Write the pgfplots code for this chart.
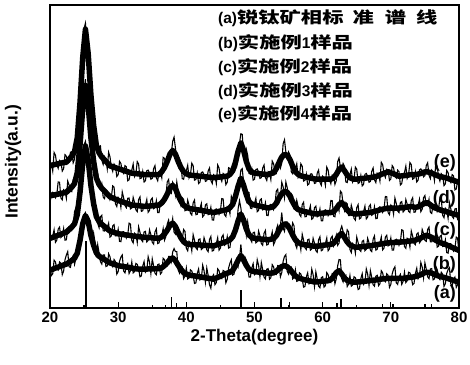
\documentclass[border=0pt]{standalone}
\usepackage{fontspec}
\setmainfont{Liberation Sans}
\newfontfamily\cjk[FakeStretch=1.33]{Noto Sans CJK SC}
\usepackage{pgfplots}
\usepackage{pgfplotstable}
\pgfplotsset{compat=1.18}

% noisy measured traces
\pgfplotstableread{
x b c d e
20.0 14 21.5 34.5 48
20.2 10.7 23.7 37.9 47.6
20.4 11.3 23.8 38.2 45.2
20.6 15.8 25.8 37.8 51.3
20.8 15.2 21.7 36.4 50.4
21.0 12.9 22.4 37.5 47.3
21.2 12.5 26 41.6 46.1
21.4 15.2 26.7 41.5 48.7
21.6 14.8 23.3 36.3 48.3
21.8 11 23.8 35.7 45.2
22.0 12.2 26.2 39 46
22.2 15.9 22.4 38.6 50.6
22.4 17.5 22.5 36.2 50.1
22.6 18.6 26.2 41.9 48.1
22.8 13.6 26.9 40.6 48.1
23.0 13.4 26.8 38.5 51.4
23.2 16.2 25.7 38.4 51.6
23.4 17.3 27.3 42.3 47.9
23.6 14.4 31.8 43.1 49.1
23.8 16.3 33.1 41.4 54.2
24.0 20.1 29.3 43.7 57.2
24.2 18.7 32.2 51.8 64.9
24.4 21.3 39.1 54.8 66.6
24.6 26.8 43.4 58.3 75.1
24.8 29.3 45.7 63.8 86.6
25.0 30.9 53.9 71.2 92.3
25.2 31.5 55 75.5 94
25.4 29.1 50.2 68 88.5
25.6 29.6 47.4 65.5 85
25.8 28.8 46.5 62.1 74.7
26.0 23 42.5 56.7 68.3
26.2 21.9 36 54.6 66.6
26.4 24.7 33.4 46.4 61.8
26.6 21.7 34.8 44.2 57.5
26.8 16.7 31.2 44.9 52.2
27.0 20.9 27.9 44.4 51.2
27.2 18.1 26.5 39.8 53.2
27.4 15.3 30.1 39.4 53.5
27.6 14.5 30.6 41 48.8
27.8 17.5 25.5 36.6 47.4
28.0 17.5 25.4 36.1 49.9
28.2 13.7 27 38.9 48.9
28.4 13.9 26.6 38.6 45.9
28.6 17.9 28 37.7 51.4
28.8 16.9 23.4 35.7 49.9
29.0 14.3 23.8 36.5 46.5
29.2 13.6 27.1 40.3 45.1
29.4 16 27.5 39.9 47.5
29.6 15.3 23.8 34.4 46.8
29.8 11.2 23.9 33.5 43.4
30.0 12 26 36.5 44
30.2 15.4 22 35.9 48.4
30.4 16.8 21.9 33.2 47.7
30.6 17.5 25.1 38.3 45.1
30.8 12.2 25.2 36.4 44.4
31.0 11.6 24.7 33.8 47
31.2 14 23.1 33.1 46.6
31.4 14.7 24.1 36.2 42
31.6 11.4 28 36.3 42.3
31.8 12.3 27.7 32.7 44.9
32.0 15.2 22.3 33 45.5
32.2 11.6 21.5 36.5 47.5
32.4 12 24.7 34.9 43.4
32.6 14.7 24.2 32.4 44.4
32.8 14.4 21.6 31.8 48.3
33.0 12.9 26.8 35.8 47.5
33.2 10.3 25 36.7 42.7
33.4 10.6 22.5 31.9 42.9
33.6 13.8 21.9 32.1 45.1
33.8 15.3 25.1 34.1 41.6
34.0 11.8 25.3 34 42
34.2 12.4 21.8 35.8 45.3
34.4 16.9 22.3 31.6 45.5
34.6 15.2 25.8 32.2 44.5
34.8 11.4 24.2 35.7 42.5
35.0 16.2 21.7 36.3 42.8
35.2 13.9 21.1 32.8 46
35.4 11.5 25.1 33.1 47
35.6 11 26.1 35.4 43
35.8 14.3 21.3 31.5 42
36.0 14.5 21.5 31.5 45
36.2 11.2 23.8 35.1 45
36.4 11.8 24 35.7 43
36.6 16.4 26.2 35.8 49.7
36.8 16 22.4 34.9 49.4
37.0 14 23.6 36.8 47.2
37.2 13.9 27.7 41.6 46.9
37.4 17 29 42.4 50.6
37.6 17 26.3 38.1 51.3
37.8 15.3 26.9 37.8 51.2
38.0 18.5 29.5 41.5 55
38.2 19.6 25 40.5 56.4
38.4 18.6 24.4 37.4 52.8
38.6 18.6 26.7 41.6 49.1
38.8 12.6 25.9 38.7 47.4
39.0 11.5 24.6 35.3 49.2
39.2 13.3 22.2 33.8 47.9
39.4 13.5 22.6 36.4 42.7
39.6 9.7 25.9 35.9 42.5
39.8 10.5 25.3 32.1 44.9
40.0 13.2 19.7 32.3 45.3
40.2 9.6 18.9 35.6 47.1
40.4 9.9 22 33.9 42.9
40.6 12.6 21.5 31.3 43.9
40.8 12.2 18.9 30.7 47.8
41.0 10.7 24.2 34.7 47
41.2 8.1 22.4 35.6 42.2
41.4 8.3 19.9 30.8 42.4
41.6 11.4 19.3 30.9 44.6
41.8 12.9 22.6 32.9 41.1
42.0 9.3 22.8 32.8 41.5
42.2 9.7 19.3 34.5 44.7
42.4 14.1 19.7 30.1 44.9
42.6 12.3 23.2 30.6 43.9
42.8 8.5 21.7 34 41.8
43.0 13.2 19.2 34.4 42
43.2 10.8 18.6 30.8 45.2
43.4 7.7 22.6 31 46.2
43.6 6.5 23.6 33.2 42.1
43.8 10.3 18.8 29.1 41.1
44.0 11 19 29 44
44.2 7.7 21.2 32.4 43.6
44.4 8.4 21.3 32.7 41.1
44.6 12.9 23.2 32.3 47.2
44.8 12.3 19.1 30.9 46.2
45.0 10 19.8 32 43
45.2 9.7 23.4 36.1 41.8
45.4 12.4 24.1 36 44.4
45.6 12.1 20.7 30.8 43.9
45.8 8.3 21.1 30.2 40.7
46.0 9.5 23.5 33.5 41.5
46.2 13.2 19.8 33.3 46.3
46.4 14.8 20 31.1 46.1
46.6 15.9 23.8 36.9 44.2
46.8 10.9 24.5 35.7 44.3
47.0 11.2 25.1 34.5 48.4
47.2 14.4 24.7 35.3 49.5
47.4 16.1 27.3 40.3 46.9
47.6 13.8 32.8 42.2 49.3
47.8 16.4 35.4 41.9 54.4
48.0 21 33 45.5 57.5
48.2 16 29.5 46 57.3
48.4 14.9 30 41.5 51
48.6 16.8 28.1 37.5 50.2
48.8 15.6 24.1 35.4 52.4
49.0 13.4 28.4 38.3 50.4
49.2 10.2 25.6 38.1 44.4
49.4 10.2 22.7 33 44.2
49.6 13.2 21.8 32.8 45.9
49.8 14.6 24.9 34.7 42.2
50.0 11 25 34.5 42.5
50.2 11.5 21.5 36.2 45.7
50.4 15.9 21.9 31.8 45.9
50.6 14.1 25.4 32.2 44.9
50.8 10.3 23.8 35.6 42.8
51.0 15 21.3 36 43
51.2 12.7 20.7 32.4 46.2
51.4 10.2 24.7 32.6 47.2
51.6 9.6 25.6 34.7 43.1
51.8 12.8 20.8 30.6 42.1
52.0 13 21 30.5 45
52.2 9.5 23.1 33.9 44.7
52.4 10 23.2 34.2 42.4
52.6 14.3 25.1 33.9 48.5
52.8 13.6 20.9 32.5 47.6
53.0 11.4 21.9 34.1 45.1
53.2 11.1 25.9 38.6 44.5
53.4 14 27.3 39.2 48
53.6 13.9 24.6 34.8 48.5
53.8 10.3 27.1 36.2 46.2
54.0 11.7 31.5 41.5 47.8
54.2 15.4 26.4 40 54.2
54.4 17 25.3 36.5 55.5
54.6 17.6 28.4 41.6 51.5
54.8 12.1 28.4 39.7 49.4
55.0 11.2 27.2 36.6 51.5
55.2 13.3 25 35.4 50.5
55.4 13.5 25.1 37.7 44.9
55.6 9.6 28.1 37 44.3
55.8 10.1 27.1 32.7 46.2
56.0 12.6 21 32.4 46
56.2 8.8 19.8 35.5 47.6
56.4 9 22.6 33.5 43.1
56.6 11.6 21.9 30.9 43.9
56.8 11.2 19.2 30.2 47.6
57.0 9.6 24.3 34.1 46.8
57.2 6.9 22.4 34.9 41.9
57.4 7.1 19.9 30.1 42.1
57.6 10.2 19.3 30.2 44.2
57.8 11.6 22.5 32.1 40.6
58.0 8 22.7 32 41
58.2 8.4 19.1 33.7 44.2
58.4 12.8 19.5 29.3 44.3
58.6 11 23 29.7 43.2
58.8 7.1 21.4 33.1 41.1
59.0 11.9 18.9 33.6 41.3
59.2 9.6 18.4 30.1 44.5
59.4 7.2 22.5 30.4 45.5
59.6 6.7 23.5 32.7 41.5
59.8 10 18.9 28.8 40.5
60.0 10.3 19.2 28.8 43.5
60.2 6.9 21.3 32.1 43
60.4 7.4 21.3 32.4 40.5
60.6 11.7 23.1 32 46.5
60.8 11 18.9 30.5 45.5
61.0 8.7 19.5 31.5 42.3
61.2 8.4 23 35.5 41
61.4 11.4 23.7 35.4 43.8
61.6 11.3 20.4 30.3 43.5
61.8 8 21.2 30.1 40.8
62.0 9.7 23.9 33.8 42.1
62.2 13.9 20.7 34 48.3
62.4 16 21.4 32.1 49.5
62.6 15.9 25.7 38.6 46.5
62.8 9.7 27 38 45.5
63.0 8.6 25.2 34.1 47.7
63.2 10.4 22.3 32.2 46.8
63.4 10.8 22.6 34.8 41.6
63.6 7.1 25.8 34.4 41.4
63.8 7.9 25.1 30.5 43.7
64.0 10.7 19.3 30.5 44
64.2 7.2 18.3 33.9 45.8
64.4 7.6 21.3 32.2 41.6
64.6 10.3 20.7 29.6 42.6
64.8 10 18.1 29 46.5
65.0 8.6 23.4 33.1 45.8
65.2 6.1 21.6 34.1 41.1
65.4 6.4 19.2 29.4 41.4
65.6 9.7 18.7 29.7 43.7
65.8 11.3 22 31.8 40.3
66.0 7.8 22.3 31.8 40.8
66.2 8.4 18.9 33.6 44.1
66.4 12.9 19.4 29.4 44.4
66.6 11.2 23 30 43.5
66.8 7.5 21.5 33.5 41.5
67.0 12.3 19.1 34.1 41.8
67.2 10.1 18.6 30.6 45.1
67.4 7.7 22.7 31 46.2
67.6 7.2 23.8 33.4 42.3
67.8 10.5 19.1 29.5 41.4
68.0 10.8 19.4 29.6 44.5
68.2 7.4 21.5 33 44.2
68.4 8 21.6 33.4 41.9
68.6 12.3 23.4 33 48.1
68.8 11.6 19.2 31.6 47.3
69.0 9.2 19.8 32.7 44.2
69.2 8.7 23.4 36.8 43.1
69.4 11.3 24 36.7 45.8
69.6 10.8 20.5 31.5 45.5
69.8 6.8 20.8 30.8 42.1
70.0 7.8 23.1 34 42.6
70.2 11.3 19.1 33.5 47
70.4 12.8 19.1 31 46.3
70.6 13.6 22.4 36.3 43.6
70.8 8.3 22.7 34.5 42.9
71.0 7.8 22.2 32 45.5
71.2 10.3 20.7 31.5 45
71.4 11.1 21.8 34.8 40.6
71.6 7.8 25.8 35.1 41.1
71.8 8.8 25.6 31.7 43.9
72.0 11.8 20.3 32.2 44.7
72.2 8.4 19.7 35.8 46.8
72.4 9 23 34.3 42.8
72.6 11.8 22.6 31.9 43.9
72.8 11.6 20.1 31.5 48
73.0 10.2 25.4 35.5 47.3
73.2 7.7 23.7 36.4 42.5
73.4 8.1 21.3 31.6 42.8
73.6 11.4 20.9 31.7 45
73.8 13.1 24.4 33.8 41.6
74.0 9.7 24.8 33.9 42.2
74.2 10.4 21.5 35.9 45.6
74.4 15 22.1 31.8 45.9
74.6 13.5 25.9 32.6 45.1
74.8 10 24.6 36.4 43.3
75.0 14.9 22.3 37.1 43.7
75.2 12.8 22 33.8 47
75.4 10.3 25.9 33.9 47.9
75.6 9.7 26.7 35.9 43.8
75.8 12.9 21.8 31.6 42.7
76.0 13 21.8 31.2 45.5
76.2 9.3 23.5 34.2 44.8
76.4 9.6 23.1 34.1 42.1
76.6 13.7 24.6 33.5 47.9
76.8 12.7 20.1 31.8 46.7
77.0 10.1 20.4 32.6 43.3
77.2 9.4 23.6 36.4 41.9
77.4 11.8 24 36 44.3
77.6 11.2 20.3 30.6 43.7
77.8 7.1 20.4 29.8 40.4
78.0 8 22.5 32.9 41
78.2 11.4 18.3 32.3 45.4
78.4 12.7 18.1 29.6 44.7
78.6 13.3 21.2 34.7 42.1
78.8 7.9 21.2 32.8 41.4
79.0 7.3 20.5 30.2 44
79.2 9.6 18.8 29.6 43.6
79.4 10.2 19.6 32.7 39
79.6 6.8 23.4 32.8 39.3
79.8 7.7 23 29.2 41.9
80.0 10.5 17.5 29.5 42.5
}\xrd

% dense core of each trace
\pgfplotstableread{
x b c d e
20.0 12.5 23 37 47
20.4 12.8 23.3 37.2 47.2
20.8 13.2 23.7 37.4 47.4
21.2 13.5 24 37.6 47.6
21.6 13.8 24.3 37.8 47.8
22.0 14.2 24.7 38 48
22.4 14.5 25 38.2 48.1
22.8 15.1 25.9 39.1 49.1
23.2 15.7 26.7 39.9 50.1
23.6 16.4 27.8 41.1 51.6
24.0 18.1 30.8 44.7 56.2
24.4 22.3 38.1 53.8 67.6
24.8 27.8 47.7 65.8 82.6
25.2 30.5 53.5 73.5 92
25.6 28.6 48.9 67 84
26.0 24 40.5 56.2 70.3
26.4 20.7 34.4 48.4 60.3
26.8 18.2 30.2 42.9 53.7
27.2 17.1 28.5 40.8 51.2
27.6 16.5 27.6 39.5 49.8
28.0 16 26.9 38.6 48.9
28.4 15.4 26.1 37.6 47.9
28.8 14.9 25.4 36.7 46.9
29.2 14.6 25.1 36.3 46.6
29.6 14.3 24.8 35.9 46.3
30.0 14 24.5 35.5 46
30.4 13.8 24.4 35.2 45.7
30.8 13.7 24.2 34.9 45.4
31.2 13.5 24.1 34.6 45.1
31.6 13.4 24 34.3 44.8
32.0 13.2 23.8 34 44.5
32.4 13 23.7 33.9 44.4
32.8 12.9 23.6 33.8 44.3
33.2 12.8 23.5 33.7 44.2
33.6 12.8 23.4 33.6 44.1
34.0 12.8 23.3 33.5 44
34.4 12.9 23.3 33.6 44
34.8 12.9 23.2 33.7 44
35.2 12.9 23.1 33.8 44
35.6 13 23.1 33.9 44
36.0 13 23 34 44
36.4 13.3 23.5 34.7 45
36.8 14 24.4 35.9 46.4
37.2 14.9 25.7 37.6 48.4
37.6 16 27.3 39.6 50.8
38.0 16.5 28 40.5 52
38.4 15.6 26.9 39.4 50.8
38.8 14.1 24.9 37.2 48.4
39.2 12.8 23.2 35.3 46.4
39.6 11.7 21.9 33.9 45
40.0 11.2 21.2 33.3 44.3
40.4 10.9 21 32.9 43.9
40.8 10.7 20.9 32.7 43.8
41.2 10.6 20.9 32.6 43.7
41.6 10.4 20.8 32.4 43.6
42.0 10.3 20.8 32.3 43.5
42.4 10.1 20.7 32.1 43.4
42.8 10 20.7 32 43.3
43.2 9.8 20.6 31.8 43.2
43.6 9.7 20.6 31.7 43.1
44.0 9.5 20.5 31.5 43
44.4 9.9 20.8 31.7 43.1
44.8 10.3 21.1 31.9 43.2
45.2 10.7 21.4 32.1 43.3
45.6 11.1 21.7 32.3 43.4
46.0 11.5 22 32.5 43.5
46.4 11.8 22.5 33.1 44.1
46.8 12.4 23.5 34.2 45.3
47.2 13.9 25.7 36.8 48
47.6 15.8 28.8 40.2 51.8
48.0 17.3 31 42.8 54.5
48.4 15.9 29 40.5 52
48.8 14.1 26.1 37.4 48.4
49.2 12.7 24.1 35.1 45.9
49.6 12.2 23.3 34.3 44.9
50.0 12 23 34 44.5
50.4 11.9 22.9 33.8 44.4
50.8 11.8 22.8 33.6 44.3
51.2 11.7 22.7 33.4 44.2
51.6 11.6 22.6 33.2 44.1
52.0 11.5 22.5 33 44
52.4 11.5 22.7 33.2 44.4
52.8 11.6 22.9 33.5 44.6
53.2 12.1 23.9 34.6 46
53.6 12.9 25.6 36.3 48
54.0 13.7 27 37.7 49.8
54.4 14 27.8 38.5 50.7
54.8 13.6 27.4 38.2 50.4
55.2 12.8 26 36.9 49
55.6 11.6 24.1 35 46.8
56.0 10.6 22.5 33.4 45
56.4 10 21.6 32.5 44.1
56.8 9.7 21.2 32.2 43.6
57.2 9.4 20.9 31.9 43.4
57.6 9.2 20.8 31.7 43.2
58.0 9 20.7 31.5 43
58.4 8.8 20.5 31.3 42.8
58.8 8.6 20.4 31.1 42.6
59.2 8.6 20.4 31.1 42.5
59.6 8.7 20.5 31.2 42.5
60.0 8.8 20.7 31.3 42.5
60.4 8.9 20.8 31.4 42.5
60.8 9 20.9 31.5 42.5
61.2 9.4 21 31.5 42.5
61.6 10.3 21.4 31.8 43
62.0 11.7 22.4 32.8 44.1
62.4 12.3 23.9 34.1 45.7
62.8 11.2 24.6 34.8 46.5
63.2 9.9 23.3 33.7 45.3
63.6 9.1 21.8 32.4 43.9
64.0 8.7 20.8 31.5 43
64.4 8.6 20.3 31.2 42.6
64.8 8.5 20.1 31 42.5
65.2 8.6 20.1 31.1 42.6
65.6 8.7 20.2 31.2 42.7
66.0 8.8 20.3 31.3 42.8
66.4 8.9 20.4 31.4 42.9
66.8 9 20.5 31.5 43
67.2 9.1 20.6 31.6 43.1
67.6 9.2 20.8 31.9 43.3
68.0 9.3 20.9 32.1 43.5
68.4 9.5 21.1 32.4 43.9
68.8 9.6 21.2 32.6 44.3
69.2 9.7 21.4 32.8 44.6
69.6 9.8 21.5 33 45
70.0 9.8 21.6 33 44.6
70.4 9.8 21.6 33 44.3
70.8 9.8 21.7 33 43.9
71.2 9.8 21.7 33 43.5
71.6 9.8 21.8 33.1 43.6
72.0 9.8 21.8 33.2 43.7
72.4 10 22 33.3 43.8
72.8 10.1 22.1 33.5 44
73.2 10.2 22.2 33.4 44
73.6 10.4 22.4 33.2 44
74.0 10.7 22.8 33.4 44.2
74.4 11 23.1 33.8 44.4
74.8 11.5 23.6 34.4 44.8
75.2 11.8 24 34.8 45
75.6 11.7 23.7 34.4 44.8
76.0 11.5 23.3 33.7 44.5
76.4 11.1 22.6 33.1 44.1
76.8 10.7 22.1 32.8 43.7
77.2 10.4 21.6 32.4 43.4
77.6 10.2 21.3 32.1 43.2
78.0 10 21 31.9 43
78.4 9.7 20.6 31.6 42.7
78.8 9.4 20.2 31.3 42.4
79.2 9.1 19.8 31.1 42.1
79.6 8.8 19.4 30.8 41.8
80.0 8.5 19 30.5 41.5
}\core

\pgfplotstableread{
x y
25.3 22
36.9 1.0
37.8 3.6
38.6 1.5
48.0 5.8
53.9 3.4
55.1 2.0
62.1 1.5
62.7 3.1
68.8 1.2
70.3 1.3
75.0 1.3
76.0 1.3
}\sticks

\newcommand{\legfont}{\bfseries\fontsize{15.5}{17}\selectfont}
\newcommand{\zh}[1]{{\cjk\bfseries\fontsize{16}{17}\selectfont #1}}

\begin{document}
\begin{tikzpicture}
\begin{axis}[
  at={(50pt,56pt)}, anchor=south west,
  width=409pt, height=303pt, scale only axis,
  xmin=20, xmax=80, ymin=0, ymax=100,
  xtick={20,30,...,80}, minor xtick={25,35,...,75},
  ytick=\empty,
  xtick pos=left, tick align=inside,
  major tick length=6pt, minor tick length=3.5pt,
  every tick/.style={line width=1.2pt, black},
  axis line style={line width=1.6pt},
  /pgf/number format/assume math mode=true,
  xticklabel style={font=\bfseries\fontsize{15}{15}\selectfont},
  xlabel={2-Theta(degree)},
  ylabel={Intensity(a.u.)},
  xlabel style={at={(axis description cs:0.5,-0.0957)}, anchor=center, font=\bfseries\fontsize{17}{17}\selectfont},
  ylabel style={at={(axis description cs:-0.0905,0.482)}, anchor=center, rotate=0, font=\bfseries\fontsize{17.5}{17.5}\selectfont},
  core/.style={black, line width=5.5pt, line join=round, line cap=round},
  fuzz/.style={black, line width=1.1pt, line join=miter},
]
\addplot[ycomb, black, line width=1.4pt] table[x=x,y=y]{\sticks};
\addplot[core] table[x=x,y=b]{\core};
\addplot[fuzz] table[x=x,y=b]{\xrd};
\addplot[core] table[x=x,y=c]{\core};
\addplot[fuzz] table[x=x,y=c]{\xrd};
\addplot[core] table[x=x,y=d]{\core};
\addplot[fuzz] table[x=x,y=d]{\xrd};
\addplot[core] table[x=x,y=e]{\core};
\addplot[fuzz] table[x=x,y=e]{\xrd};
\end{axis}
\begin{scope}[every node/.style={anchor=west, inner sep=0pt}]
\node at (218pt,345.7pt) {\legfont (a)\zh{锐钛矿相标}\hspace{9pt}\zh{准}\hspace{11pt}\zh{谱}\hspace{10pt}\zh{线}};
\node at (218pt,320.7pt) {\legfont (b)\zh{实施例}1\zh{样品}};
\node at (218pt,297.3pt) {\legfont (c)\zh{实施例}2\zh{样品}};
\node at (218pt,273.3pt) {\legfont (d)\zh{实施例}3\zh{样品}};
\node at (218pt,250pt) {\legfont (e)\zh{实施例}4\zh{样品}};
\end{scope}
\begin{scope}[every node/.style={anchor=east, inner sep=0pt, font=\bfseries\fontsize{18}{18}\selectfont}]
\node at (456pt,201pt) {(e)};
\node at (456pt,165pt) {(d)};
\node at (456pt,133pt) {(c)};
\node at (456pt,99pt) {(b)};
\node at (456pt,70pt) {(a)};
\end{scope}
\pgfresetboundingbox
\path (0,0) rectangle (470pt,364pt);
\end{tikzpicture}
\end{document}
